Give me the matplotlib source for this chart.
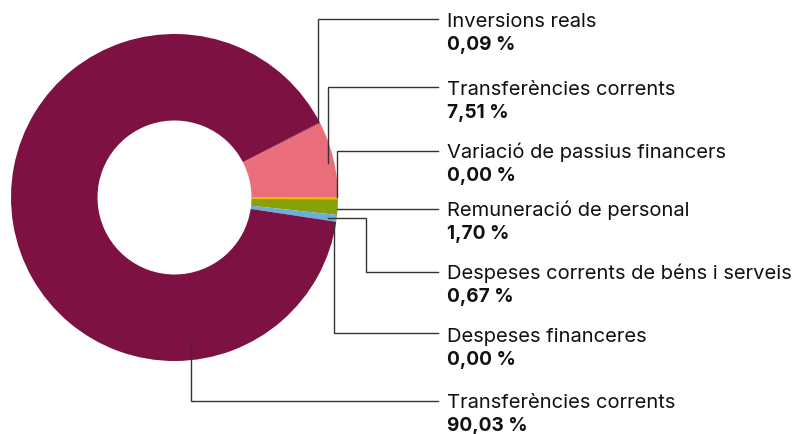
import matplotlib
matplotlib.use("Agg")
import matplotlib.pyplot as plt
import numpy as np

# chart data (percent of total)
labels = ["Variació de passius financers", "Remuneració de personal",
          "Despeses corrents de béns i serveis", "Despeses financeres",
          "Transferències corrents", "Inversions reals", "Transferències corrents"]
values = [0.00, 1.70, 0.67, 0.00, 90.03, 0.09, 7.51]
value_text = ["0,00 %", "1,70 %", "0,67 %", "0,00 %", "90,03 %", "0,09 %", "7,51 %"]
colors = ["#F4B800", "#88A00B", "#6BAEDC", "#6BAEDC", "#7D1242", "#7D1242", "#E96D7A"]

W, H = 803, 434
CX, CY = 174.5, 197.5
R_OUT, R_IN = 163.5, 77

# leader lines in pixel coords (y down), one per label, plus label row y
leaders = {
    5: ([(318, 122), (318, 18.5), (438, 18.5)], 20),
    6: ([(327.7, 163), (327.7, 87), (438, 87)], 88),
    0: ([(337.3, 197), (337.3, 151), (438, 151)], 151),
    1: ([(337, 209), (438, 209)], 209),
    2: ([(327.7, 218.3), (366, 218.3), (366, 272.3), (438, 272.3)], 272),
    3: ([(334, 223), (334, 333), (438, 333)], 335),
    4: ([(190.7, 340.7), (190.7, 401), (438, 401)], 401),
}

plt.rcParams['font.family'] = ['Inter', 'DejaVu Sans']

fig = plt.figure(figsize=(W / 100, H / 100), dpi=100)
ax = fig.add_axes([0, 0, 1, 1])

# y axis is flipped, so clockwise on screen = counterclock in data
wedges, _ = ax.pie(values, colors=colors, startangle=0, counterclock=True,
                   center=(CX, CY), radius=R_OUT, frame=True,
                   wedgeprops=dict(width=R_OUT - R_IN, linewidth=0))
ax.set_xlim(0, W)
ax.set_ylim(H, 0)
ax.set_aspect("equal")
ax.axis("off")

# zero-value slice still shows as a thin stroke on its angle
th = np.deg2rad(wedges[0].theta1 + 0.35)
ax.plot([CX + R_IN * np.cos(th), CX + R_OUT * np.cos(th)],
        [CY + R_IN * np.sin(th), CY + R_OUT * np.sin(th)],
        color=colors[0], lw=1.4, solid_capstyle="butt")

for i, (pts, ty) in leaders.items():
    xs = [p[0] for p in pts]
    ys = [p[1] for p in pts]
    ax.plot(xs, ys, color="#333333", lw=1, solid_joinstyle="miter")
    ax.text(447.5, ty + 7.3, labels[i], fontsize=14.5, color="#111111",
            va="baseline", ha="left")
    ax.text(447.5, ty + 29.7, value_text[i], fontsize=13.7, fontweight="bold",
            color="#111111", va="baseline", ha="left")

fig.savefig("out.png", dpi=100)
